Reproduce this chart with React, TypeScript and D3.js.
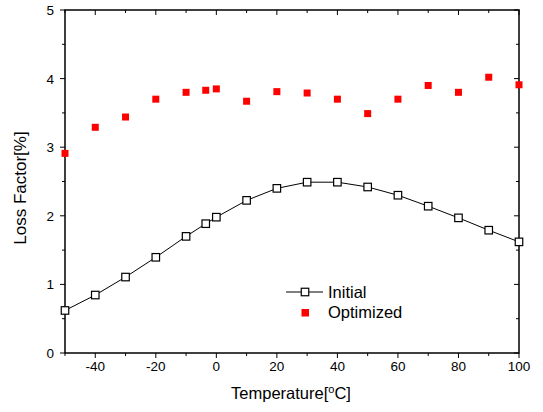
import React from "react";
import * as d3 from "d3";

const temps = [-50, -40, -30, -20, -10, -3.5, 0, 10, 20, 30, 40, 50, 60, 70, 80, 90, 100];
const initial = [0.62, 0.845, 1.107, 1.395, 1.70, 1.885, 1.98, 2.225, 2.40, 2.49, 2.49, 2.42, 2.30, 2.14, 1.97, 1.79, 1.62];
const optimized = [2.91, 3.29, 3.44, 3.70, 3.80, 3.83, 3.85, 3.67, 3.81, 3.79, 3.70, 3.49, 3.70, 3.90, 3.80, 4.02, 3.91];
const xTicks = [-40, -20, 0, 20, 40, 60, 80, 100];
const yTicks = [0, 1, 2, 3, 4, 5];

const W = 543, H = 412;
const L = 65, R = 519, T = 10, B = 353;
const font = "'Liberation Sans', Arial, sans-serif";

export default function App() {
  const x = d3.scaleLinear().domain([-50, 100]).range([L, R]);
  const y = d3.scaleLinear().domain([0, 5]).range([B, T]);
  const xMinor = d3.range(-50, 101, 10);
  const yMinor = d3.range(0, 5.01, 0.5);
  const line = d3.line<number>().x((_, i) => x(temps[i])).y((d) => y(d));
  return (
    <svg width={W} height={H} style={{ position: "absolute", left: 0, top: 0, background: "#fff" }} fontFamily={font}>
      <defs>
        <clipPath id="clip">
          <rect x={L - 5} y={T - 5} width={R - L + 10} height={B - T + 10} />
        </clipPath>
      </defs>
      {xMinor.map((v) => {
        const major = v % 20 === 0;
        const len = major ? 5 : 3;
        return (
          <g key={"xt" + v} stroke="#000" strokeWidth={1}>
            <line x1={x(v)} x2={x(v)} y1={B} y2={B + len} />
            <line x1={x(v)} x2={x(v)} y1={T} y2={T + len} />
          </g>
        );
      })}
      {yMinor.map((v) => {
        const major = Math.abs(v - Math.round(v)) < 1e-6;
        const len = major ? 5 : 3;
        return (
          <g key={"yt" + v} stroke="#000" strokeWidth={1}>
            <line x1={L} x2={L - len} y1={y(v)} y2={y(v)} />
            <line x1={R} x2={R - len} y1={y(v)} y2={y(v)} />
          </g>
        );
      })}
      <rect x={L} y={T} width={R - L} height={B - T} fill="none" stroke="#000" strokeWidth={1.5} />
      {xTicks.map((v) => (
        <text key={"xl" + v} x={x(v)} y={B + 18} textAnchor="middle" fontSize={13.5}>{v}</text>
      ))}
      {yTicks.map((v) => (
        <text key={"yl" + v} x={L - 11} y={y(v) + 5} textAnchor="end" fontSize={13.5}>{v}</text>
      ))}
      <text x={291} y={399} textAnchor="middle" fontSize={16.5}>
        Temperature[<tspan dy={-6} fontSize={11}>o</tspan><tspan dy={6}>C]</tspan>
      </text>
      <text transform={`translate(26,188) rotate(-90)`} textAnchor="middle" fontSize={17}>Loss Factor[%]</text>
      <g clipPath="url(#clip)">
        <path d={line(initial) || ""} fill="none" stroke="#000" strokeWidth={1} />
        {initial.map((v, i) => (
          <rect key={"i" + i} x={x(temps[i]) - 3.75} y={y(v) - 3.75} width={7.5} height={7.5} fill="#fff" stroke="#000" strokeWidth={1.2} />
        ))}
        {optimized.map((v, i) => (
          <rect key={"o" + i} x={x(temps[i]) - 3.5} y={y(v) - 3.5} width={7} height={7} fill="#ff0000" />
        ))}
      </g>
      <line x1={286} x2={323} y1={292} y2={292} stroke="#000" strokeWidth={1} />
      <rect x={301.25} y={288.25} width={7.5} height={7.5} fill="#fff" stroke="#000" strokeWidth={1.2} />
      <text x={328} y={297.5} fontSize={16.5}>Initial</text>
      <rect x={301.5} y={309} width={7.5} height={7.5} fill="#ff0000" />
      <text x={328} y={317.5} fontSize={16.5}>Optimized</text>
    </svg>
  );
}
